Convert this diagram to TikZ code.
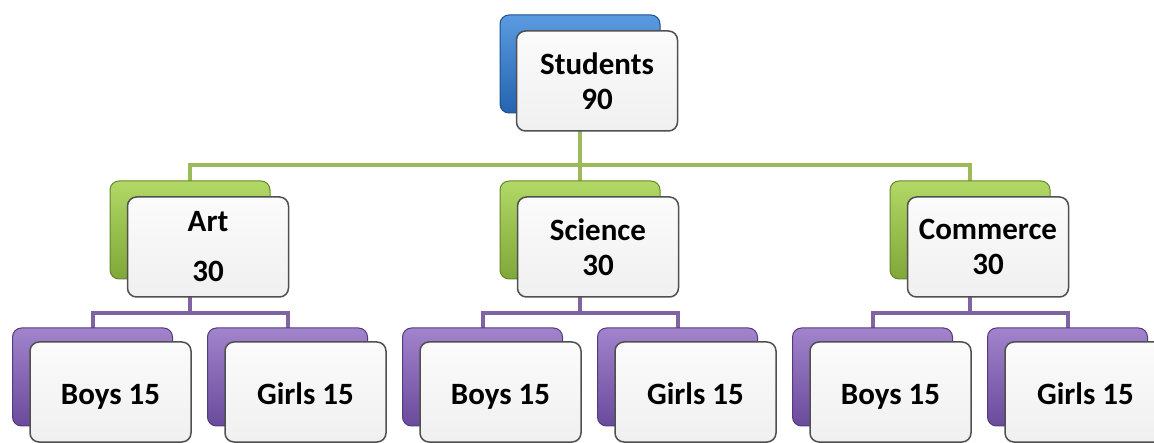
\documentclass[tikz,border=0pt]{standalone}
\usepackage{fontspec}
\setmainfont{Carlito}
\usetikzlibrary{backgrounds}
\definecolor{bluetop}{HTML}{5A9BE0}
\definecolor{bluebot}{HTML}{2463B0}
\definecolor{greentop}{HTML}{B2D866}
\definecolor{greenbot}{HTML}{7FA838}
\definecolor{purpletop}{HTML}{A283CC}
\definecolor{purplebot}{HTML}{6A4A9C}
\definecolor{greenline}{HTML}{9BBB59}
\definecolor{purpleline}{HTML}{8064A2}
\definecolor{boxedge}{HTML}{505050}
\begin{document}
\begin{tikzpicture}[x=1pt,y=-1pt,
  backbox/.style={rounded corners=9pt,minimum width=160pt,minimum height=98pt,
    draw=#1bot!80!black,line width=1pt,top color=#1top,bottom color=#1bot},
  frontbox/.style={rounded corners=9pt,minimum width=161pt,minimum height=100pt,
    draw=boxedge,line width=1.5pt,top color=white!97!gray,bottom color=white!88!gray,
    align=center,font=\fontsize{31}{35}\selectfont\bfseries},
  leafbox/.style={frontbox,text height=26pt,text depth=0pt},
  tree/.style={line width=4pt,color=#1}]
\useasboundingbox (0,0) rectangle (1154,443);
% top
\node[backbox=blue] (stud) at (580,64) {};
\node[frontbox] (studF) at ([shift={(17,17)}]stud.center) {Students\\90};
% subjects
\node[backbox=green] (art) at (190,230) {};
\node[frontbox] (artF) at ([shift={(18,17)}]art.center) {Art\\[15pt]30};
\node[backbox=green] (sci) at (580,230) {};
\node[frontbox] (sciF) at ([shift={(18,17)}]sci.center) {Science\\30};
\node[backbox=green] (com) at (970,230) {};
\node[frontbox] (comF) at ([shift={(18,17)}]com.center) {Commerce\\30};
% boys and girls
\foreach \p/\x in {art/190,sci/580,com/970}{
  \node[backbox=purple] (\p boys) at (\x-97.5,377) {};
  \node[leafbox] (\p boysF) at ([shift={(18,15)}]\p boys.center) {Boys 15};
  \node[backbox=purple] (\p girls) at (\x+97.5,377) {};
  \node[leafbox] (\p girlsF) at ([shift={(18,15)}]\p girls.center) {Girls 15};
}
% connectors
\begin{scope}[on background layer]
\coordinate (j0) at (580,165);
\draw[tree=greenline] (stud.center) -- (j0) -| (art.center);
\draw[tree=greenline] (j0) -| (com.center);
\draw[tree=greenline] (j0) -- (sci.center);
\foreach \p in {art,sci,com}{
  \draw[tree=purpleline] (\p.center) -- ++(0,83) coordinate (\p j) -| (\p boys.center);
  \draw[tree=purpleline] (\p j) -| (\p girls.center);
}
\end{scope}
\end{tikzpicture}
\end{document}
